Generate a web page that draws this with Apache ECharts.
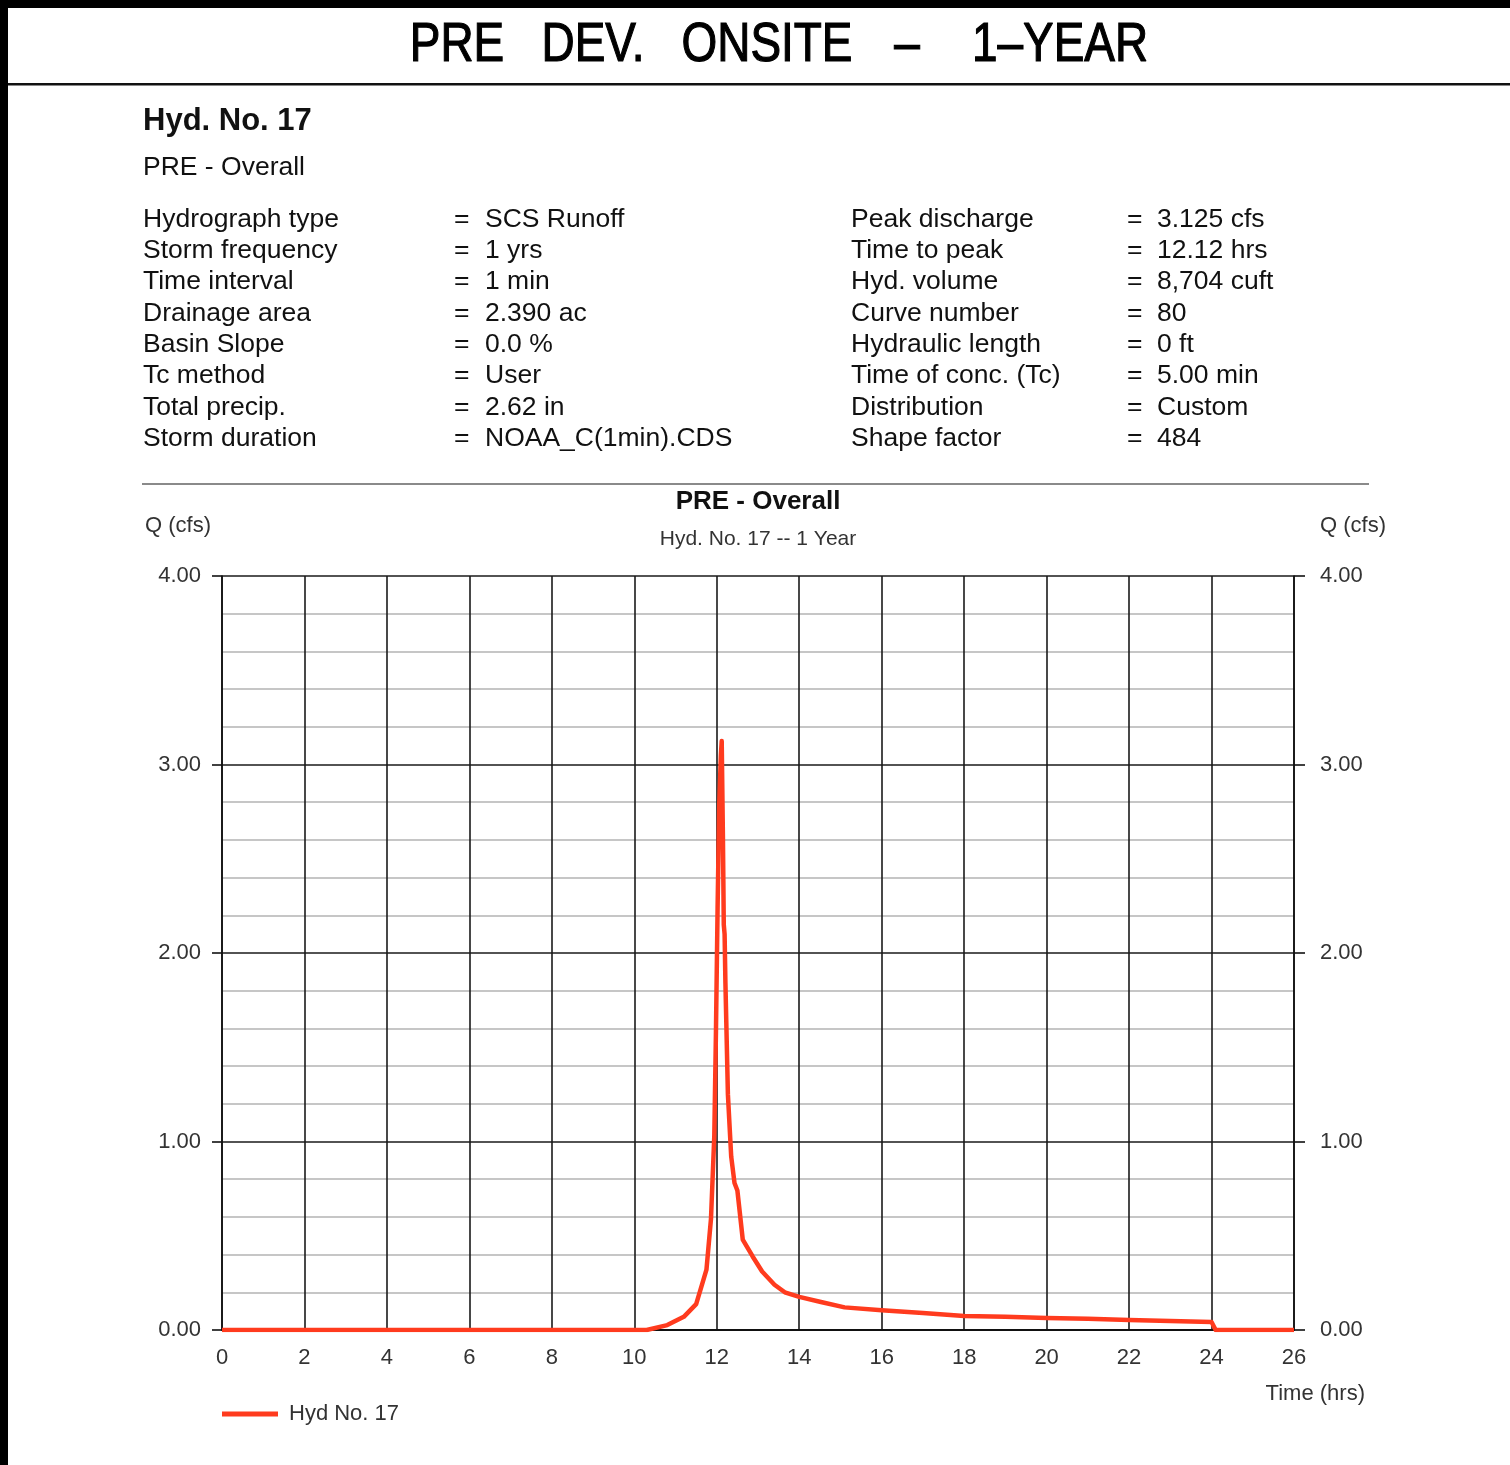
<!DOCTYPE html>
<html>
<head>
    <meta charset="utf-8">
    <title>PRE DEV. ONSITE - 1-YEAR</title>
    <script src="https://cdn.jsdelivr.net/npm/echarts@6/dist/echarts.min.js"></script>
    <style type="text/css">
        html, body { margin: 0; padding: 0; background: #fff; }
        #dvchart { width: 1510px; height: 1465px; }
    </style>
</head>
<body>
<div id="dvchart"></div>
<script>
    // hydrograph values
    var times = [0, 10.3, 10.8, 11.2, 11.5, 11.6, 11.75, 11.86, 11.94, 11.98, 12.02, 12.06, 12.1, 12.12,
        12.15, 12.17, 12.19, 12.21, 12.27, 12.35, 12.43, 12.5, 12.63, 12.87, 13.1, 13.4, 13.65, 14.0,
        14.5, 15.1, 16, 17, 18, 19, 20, 21, 22, 23, 24, 24.1, 26];
    var flows = [0, 0, 0.026, 0.07, 0.137, 0.21, 0.32, 0.59, 1.03, 1.58, 2.24, 2.79, 3.05, 3.125,
        2.6, 2.15, 2.1, 1.84, 1.25, 0.92, 0.78, 0.74, 0.48, 0.39, 0.31, 0.24, 0.2, 0.176,
        0.15, 0.12, 0.105, 0.09, 0.074, 0.07, 0.064, 0.06, 0.053, 0.048, 0.042, 0, 0];
    var xTicks = [0, 26, 2];      // min, max, interval (hrs)
    var yTicks = [0, 4, 1];       // min, max, interval (cfs)

    // header table
    var leftLabels = ['Hydrograph type', 'Storm frequency', 'Time interval', 'Drainage area',
        'Basin Slope', 'Tc method', 'Total precip.', 'Storm duration'];
    var leftValues = ['SCS Runoff', '1 yrs', '1 min', '2.390 ac', '0.0 %', 'User', '2.62 in', 'NOAA_C(1min).CDS'];
    var rightLabels = ['Peak discharge', 'Time to peak', 'Hyd. volume', 'Curve number',
        'Hydraulic length', 'Time of conc. (Tc)', 'Distribution', 'Shape factor'];
    var rightValues = ['3.125 cfs', '12.12 hrs', '8,704 cuft', '80', '0 ft', '5.00 min', 'Custom', '484'];

    var FONT = '"Liberation Sans", Arial, sans-serif';
    var INK = '#1e1e1e';

    function txt(x, y, s, size, opts) {
        opts = opts || {};
        var style = {
            text: s, fill: opts.fill || INK,
            font: (opts.bold ? 'bold ' : '') + size + 'px ' + (opts.family || FONT),
            textAlign: opts.align || 'left', textVerticalAlign: 'middle'
        };
        if (opts.stroke) {
            style.stroke = opts.fill || INK;
            style.lineWidth = opts.stroke;
        }
        return {type: 'text', x: x, y: y, silent: true, scaleX: opts.scaleX || 1, style: style};
    }

    var graphics = [
        {type: 'rect', shape: {x: 0, y: 0, width: 1510, height: 8}, style: {fill: '#000'}},
        {type: 'rect', shape: {x: 0, y: 0, width: 8, height: 1465}, style: {fill: '#000'}},
        {type: 'rect', shape: {x: 8, y: 83, width: 1502, height: 2.5}, style: {fill: '#111'}},
        {type: 'rect', shape: {x: 142, y: 483, width: 1227, height: 2}, style: {fill: '#8a8a8a'}}
    ];

    // drawing title, word by word
    var titleWords = [['PRE', 457], ['DEV.', 593], ['ONSITE', 767], ['\u2013', 907], ['1\u2013YEAR', 1060]];
    titleWords.forEach(function (w) {
        graphics.push(txt(w[1], 46, w[0], 56, {align: 'center', scaleX: 0.82, fill: '#000', stroke: 1.2}));
    });

    graphics.push(txt(143, 121, 'Hyd. No. 17', 31, {bold: true, fill: '#111'}));
    graphics.push(txt(143, 168, 'PRE - Overall', 26.5, {fill: '#111'}));

    var rowY0 = 219.5, rowDy = 31.3;
    for (var i = 0; i < leftLabels.length; i++) {
        var y = rowY0 + i * rowDy;
        graphics.push(txt(143, y, leftLabels[i], 26.5, {fill: '#111'}));
        graphics.push(txt(454, y, '=', 26.5, {fill: '#111'}));
        graphics.push(txt(485, y, leftValues[i], 26.5, {fill: '#111'}));
        graphics.push(txt(851, y, rightLabels[i], 26.5, {fill: '#111'}));
        graphics.push(txt(1127, y, '=', 26.5, {fill: '#111'}));
        graphics.push(txt(1157, y, rightValues[i], 26.5, {fill: '#111'}));
    }

    graphics.push(txt(758, 502, 'PRE - Overall', 26, {bold: true, align: 'center', fill: '#111'}));
    graphics.push(txt(758, 539, 'Hyd. No. 17 -- 1 Year', 21, {align: 'center', fill: '#333'}));
    graphics.push(txt(145, 526, 'Q (cfs)', 22, {fill: '#333'}));
    graphics.push(txt(1320, 526, 'Q (cfs)', 22, {fill: '#333'}));
    graphics.push(txt(1365, 1394, 'Time (hrs)', 22, {align: 'right', fill: '#333'}));

    var seriesData = times.map(function (t, k) { return [t, flows[k]]; });

    var chart = echarts.init(document.getElementById('dvchart'));
    var option = {
        animation: false,
        backgroundColor: '#fff',
        graphic: graphics,
        grid: {left: 222, top: 576, width: 1072, height: 754, containLabel: false},
        legend: {
            left: 217, top: 1398,
            icon: 'rect', itemWidth: 56, itemHeight: 5,
            textStyle: {fontFamily: FONT, fontSize: 22, color: '#333', padding: [0, 0, 0, 6]},
            data: ['Hyd No. 17']
        },
        xAxis: {
            type: 'value', min: xTicks[0], max: xTicks[1], interval: xTicks[2],
            axisLine: {show: true, lineStyle: {color: '#111', width: 2}},
            axisTick: {show: false},
            axisLabel: {margin: 17, fontFamily: FONT, fontSize: 22, color: '#333'},
            splitLine: {show: true, lineStyle: {color: '#1a1a1a', width: 1.6}}
        },
        yAxis: [{
            type: 'value', position: 'left', min: yTicks[0], max: yTicks[1], interval: yTicks[2],
            axisLine: {show: true, lineStyle: {color: '#111', width: 1.6}},
            axisTick: {show: true, length: 10, lineStyle: {color: '#111', width: 1.6}},
            axisLabel: {margin: 21, fontFamily: FONT, fontSize: 22, color: '#333', padding: [4, 0, 0, 0],
                formatter: function (v) { return v.toFixed(2); }},
            splitLine: {show: true, lineStyle: {color: '#1a1a1a', width: 1.6}},
            minorTick: {show: false, splitNumber: 5},
            minorSplitLine: {show: true, lineStyle: {color: '#c6c6c6', width: 2}}
        }, {
            type: 'value', position: 'right', min: yTicks[0], max: yTicks[1], interval: yTicks[2],
            axisLine: {show: true, lineStyle: {color: '#111', width: 1.6}},
            axisTick: {show: true, length: 11, lineStyle: {color: '#111', width: 1.6}},
            axisLabel: {margin: 26, fontFamily: FONT, fontSize: 22, color: '#333', padding: [4, 0, 0, 0],
                formatter: function (v) { return v.toFixed(2); }},
            splitLine: {show: false}
        }],
        series: [{
            name: 'Hyd No. 17',
            type: 'line',
            yAxisIndex: 0,
            symbol: 'none',
            color: '#ff3b1e',
            lineStyle: {color: '#ff3b1e', width: 4.5, join: 'round'},
            data: seriesData,
            z: 5
        }]
    };
    chart.setOption(option);
</script>
</body>
</html>
